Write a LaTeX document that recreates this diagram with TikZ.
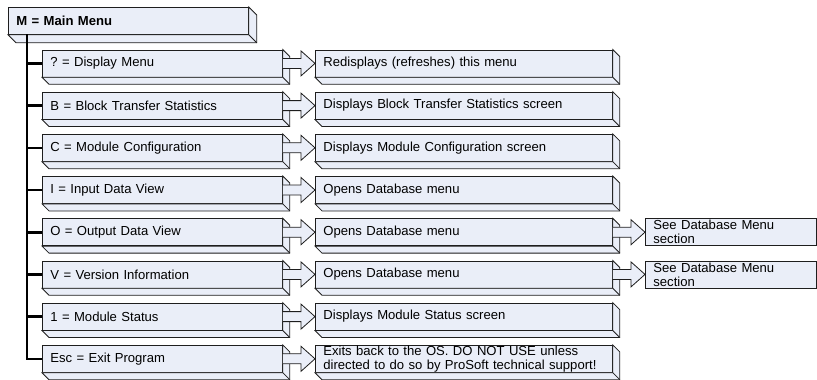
\documentclass[tikz,border=0pt]{standalone}
\usepackage{fontspec}
\setmainfont{Liberation Sans}
\usetikzlibrary{calc}
\definecolor{boxfill}{RGB}{234,238,248}
\definecolor{edge}{RGB}{30,30,30}
\frenchspacing
\newcommand\boxbevel[2]{%
  \draw[bevelface] (#1.north east) -- ++(#2,-#2) -- ($(#1.south east)+(#2,-#2)$)
    -- ($(#1.south west)+(#2,-#2)$) -- (#1.south west) -- (#1.south east) -- cycle;
  \draw[bevelface] (#1.south east) -- ++(#2,-#2);
}
\newcommand\arrowlink[2]{%
  \path[linkarrow] ($(#1.east)+(0,5)$) -- ($(#2.west)+(-14,5)$) -- ($(#2.west)+(-14,12.5)$)
    -- (#2.west) -- ($(#2.west)+(-14,-12.5)$) -- ($(#2.west)+(-14,-5)$) -- ($(#1.east)+(0,-5)$);
}
\begin{document}
\begin{tikzpicture}[x=1bp,y=1bp,
  face/.style={draw=edge, fill=boxfill, line width=0.8bp, rectangle, anchor=north west,
    minimum height=27bp, inner xsep=8bp, inner ysep=0pt, align=left,
    font=\fontsize{13.1bp}{14bp}\selectfont\frenchspacing},
  colone/.style={face, text width=224bp},
  coltwo/.style={face, text width=281bp},
  colthree/.style={face, text width=155bp},
  bevelface/.style={draw=edge, fill=boxfill, line width=0.8bp, line join=miter},
  linkarrow/.style={draw=edge, fill=boxfill, line width=0.8bp},
  trunk/.style={line width=2.6bp, draw=black}
]
\useasboundingbox (0,0) rectangle (817,-379);

% main box
\node[colone, font=\bfseries\fontsize{13.1bp}{14bp}\selectfont] (main) at (8,-7) {M = Main Menu};
\boxbevel{main}{8}

% column one
\node[colone] (r0) at (42,-49.5) {? = Display Menu};
\node[colone] (r1) at (42,-91.7) {B = Block Transfer Statistics};
\node[colone] (r2) at (42,-133.9) {C = Module Configuration};
\node[colone] (r3) at (42,-176.1) {I = Input Data View};
\node[colone] (r4) at (42,-218.3) {O = Output Data View};
\node[colone] (r5) at (42,-260.5) {V = Version Information};
\node[colone] (r6) at (42,-302.7) {1 = Module Status};
\node[colone] (r7) at (42,-344.9) {Esc = Exit Program};

% column two
\node[coltwo] (d0) at (315,-49.5) {Redisplays (refreshes) this menu};
\node[coltwo] (d1) at (315,-91.7) {Displays Block Transfer Statistics screen};
\node[coltwo] (d2) at (315,-133.9) {Displays Module Configuration screen};
\node[coltwo] (d3) at (315,-176.1) {Opens Database menu};
\node[coltwo] (d4) at (315,-218.3) {Opens Database menu};
\node[coltwo] (d5) at (315,-260.5) {Opens Database menu};
\node[coltwo] (d6) at (315,-302.7) {Displays Module Status screen};
\node[coltwo] (d7) at (315,-344.9) {Exits back to the OS. DO NOT USE unless\\directed to do so by ProSoft technical support!};

% column three
\node[colthree] (s4) at (645,-218.3) {See Database Menu\\section};
\node[colthree] (s5) at (645,-260.5) {See Database Menu\\section};

\foreach \i in {0,...,7} {
  \boxbevel{r\i}{7}
  \boxbevel{d\i}{7}
  \arrowlink{r\i}{d\i}
}
\arrowlink{d4}{s4}
\arrowlink{d5}{s5}

% tree trunk
\coordinate (trunktop) at (27,-34);
\draw[trunk] (trunktop) |- (r7.west);
\foreach \i in {0,...,6} {
  \draw[trunk] (trunktop |- r\i.west) -- (r\i.west);
}
\end{tikzpicture}
\end{document}
